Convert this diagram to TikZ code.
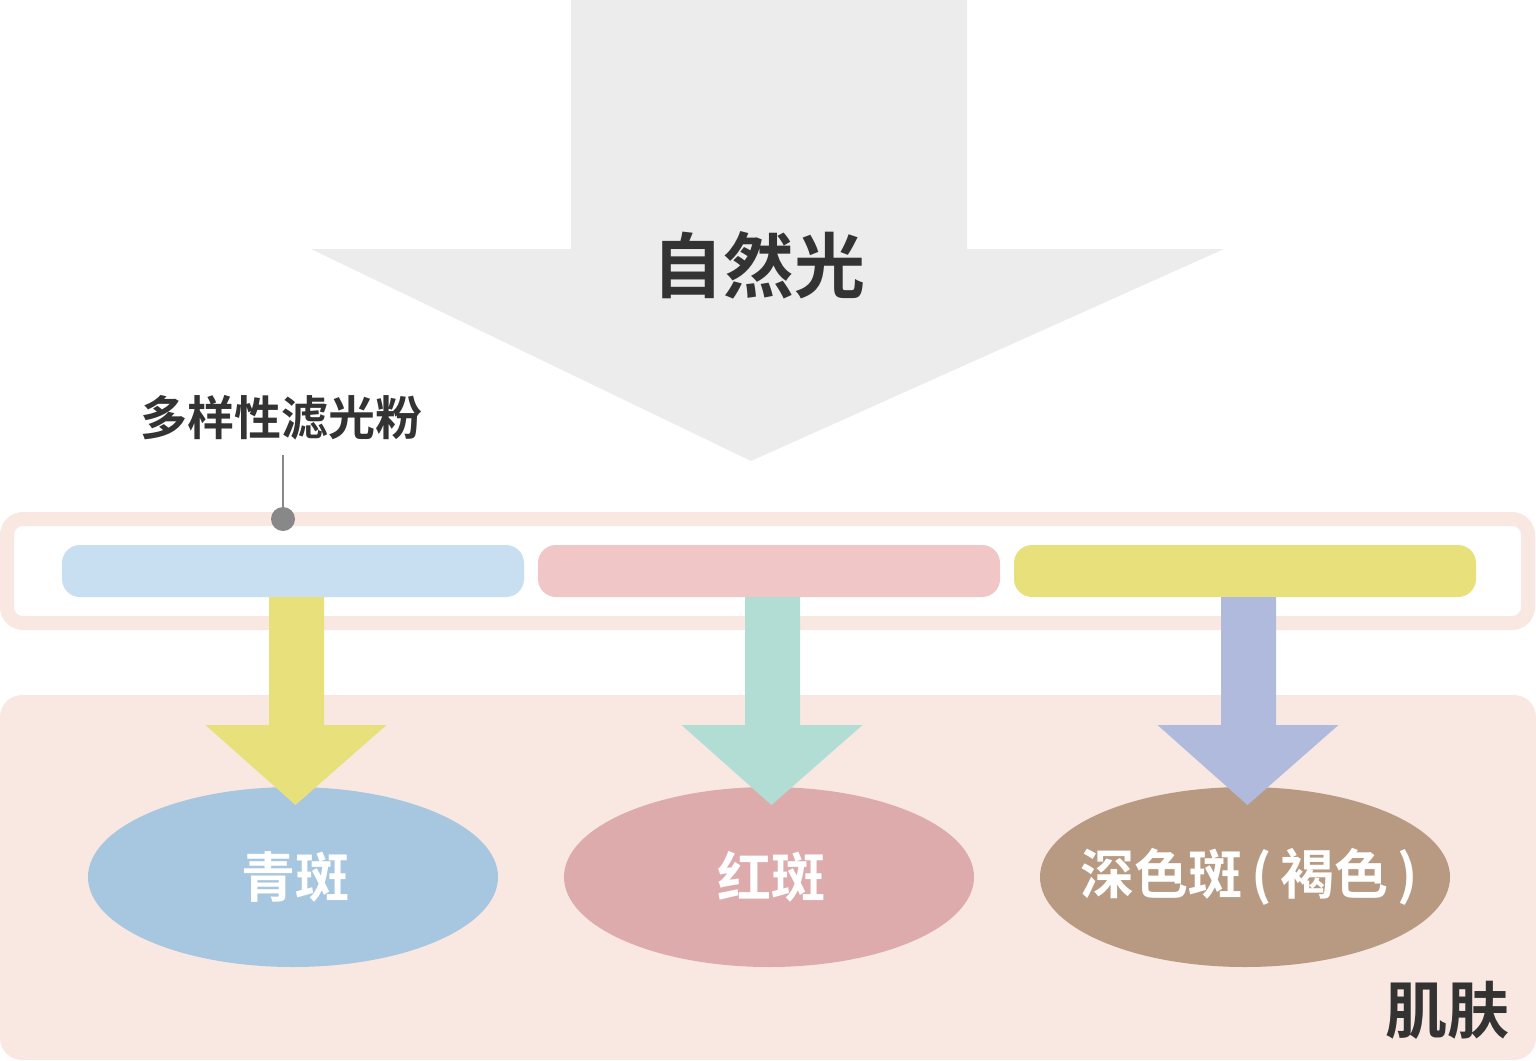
\documentclass[tikz,border=0pt]{standalone}
\usepackage{fontspec}
\newfontfamily\cjk{Noto Sans CJK SC}[BoldFont={Noto Sans CJK SC Bold}]
\definecolor{lightgray}{HTML}{ECECEC}
\definecolor{skin}{HTML}{F9E8E1}
\definecolor{barblue}{HTML}{C8DEF1}
\definecolor{barpink}{HTML}{F0C6C7}
\definecolor{baryellow}{HTML}{E8E07B}
\definecolor{arrteal}{HTML}{B2DDD4}
\definecolor{arrpurple}{HTML}{B0BADD}
\definecolor{ellblue}{HTML}{A7C6E0}
\definecolor{ellpink}{HTML}{DDABAC}
\definecolor{ellbrown}{HTML}{B89A82}
\definecolor{darktext}{HTML}{333333}
\definecolor{pingray}{HTML}{888888}
\tikzset{
  bar/.style={rounded corners=18pt},
  wlabel/.style={font=\cjk\bfseries\fontsize{54}{60}\selectfont, text=white, inner sep=0pt},
  dlabel/.style={font=\cjk\bfseries, text=darktext, inner sep=0pt},
}
\begin{document}
\begin{tikzpicture}[x=1pt,y=-1pt]
\useasboundingbox (0,0) rectangle (1536,1060);
% big arrow
\fill[lightgray] (571,0) -- (967,0) -- (967,249) -- (1224,249) -- (751,461) -- (311,249) -- (571,249) -- cycle;
\node[dlabel, font=\cjk\bfseries\fontsize{71}{80}\selectfont] (sun) at (759,265) {自然光};
% skin
\fill[skin, rounded corners=22pt] (0,695) rectangle (1536,1060);
% filter frame
\draw[skin, line width=14pt, rounded corners=16pt] (7,519) rectangle (1528,623);
\fill[barblue, bar] (62,545) rectangle (524,597);
\fill[barpink, bar] (538,545) rectangle (1000,597);
\fill[baryellow, bar] (1014,545) rectangle (1476,597);
% ellipses
\fill[ellblue] (293,877) ellipse [x radius=205, y radius=90];
\fill[ellpink] (769,877) ellipse [x radius=205, y radius=90];
\fill[ellbrown] (1245,877) ellipse [x radius=205, y radius=90];
% arrows
\foreach \cx/\col in {296.5/baryellow, 772.5/arrteal, 1248.5/arrpurple}{
  \fill[\col] (\cx-27.5,597) -- (\cx+27.5,597) -- (\cx+27.5,725) -- (\cx+90,725) -- (\cx-1,805) -- (\cx-91,725) -- (\cx-27.5,725) -- cycle;
}
% labels
\node[wlabel] (s1) at (295,877) {青斑};
\node[wlabel] (s2) at (771,877) {红斑};
\node[wlabel] (s3) at (1249,877) {深色斑\,(\,褐色\,)};
\node[dlabel, font=\cjk\bfseries\fontsize{62}{70}\selectfont] (skinlbl) at (1447,1010) {肌肤};
% filter label
\node[dlabel, font=\cjk\bfseries\fontsize{47}{54}\selectfont] (flt) at (281,418) {多样性滤光粉};
\coordinate (pinend) at (283,519);
\coordinate (pintop) at (283,455);
\draw[pingray, line width=2.5pt] (pintop) -- (pinend);
\fill[pingray] (pinend) circle (12);
\end{tikzpicture}
\end{document}
